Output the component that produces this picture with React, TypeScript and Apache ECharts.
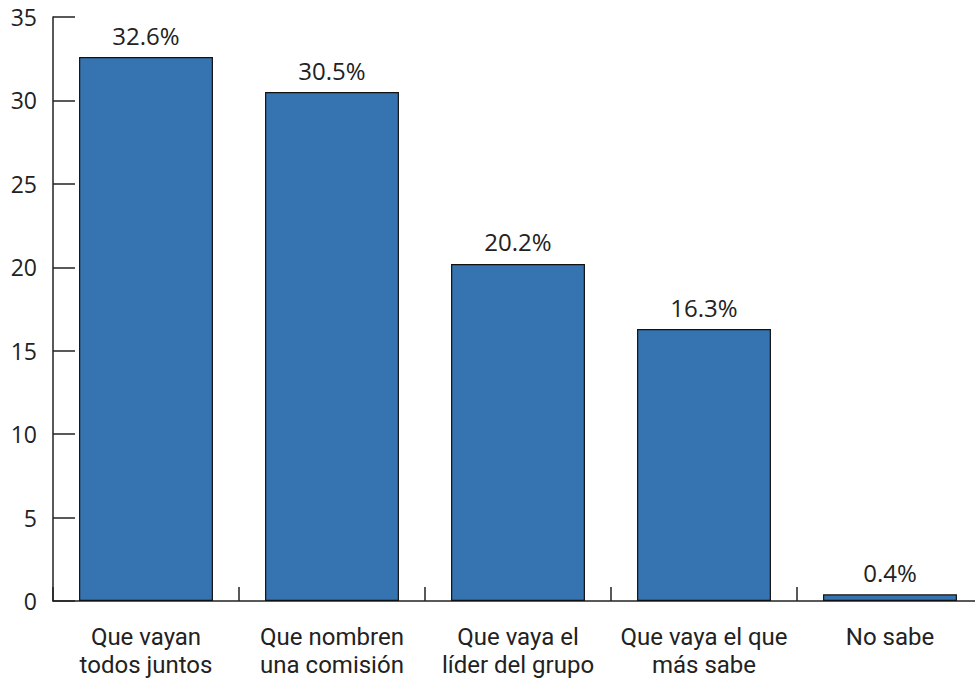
import React, { useEffect, useRef } from "react";
import * as echarts from "echarts";

const categories = [
  "Que vayan\ntodos juntos",
  "Que nombren\nuna comisión",
  "Que vaya el\nlíder del grupo",
  "Que vaya el que\nmás sabe",
  "No sabe",
];
const values = [32.6, 30.5, 20.2, 16.3, 0.4];
const yTicks = { min: 0, max: 35, interval: 5 };

export default function App() {
  const ref = useRef<HTMLDivElement>(null);
  useEffect(() => {
    if (!ref.current) return;
    const chart = echarts.init(ref.current, null, { renderer: "svg" });
    const font = "'Open Sans', 'Noto Sans', sans-serif";
    chart.setOption({
      animation: false,
      grid: { left: 53, right: 0, top: 17, bottom: 77, containLabel: false },
      xAxis: {
        type: "category",
        data: categories,
        axisLine: { show: true, lineStyle: { color: "#222", width: 1.5 } },
        axisTick: { show: true, inside: true, interval: 0, length: 14, lineStyle: { color: "#222", width: 1.5 } },
        axisLabel: {
          interval: 0,
          color: "#222",
          fontSize: 24,
          fontFamily: "Roboto, 'Open Sans', sans-serif",
          lineHeight: 28,
          margin: 22,
        },
      },
      yAxis: {
        type: "value",
        min: yTicks.min,
        max: yTicks.max,
        interval: yTicks.interval,
        splitLine: { show: false },
        axisLine: { show: true, lineStyle: { color: "#222", width: 1.5 } },
        axisTick: { show: true, inside: true, length: 22, lineStyle: { color: "#222", width: 1.5 } },
        axisLabel: { color: "#222", fontSize: 23, fontFamily: font, margin: 16 },
      },
      series: [
        {
          type: "bar",
          data: values,
          barCategoryGap: "28%",
          itemStyle: { color: "#3574b0", borderColor: "#111", borderWidth: 1.2 },
          label: {
            show: true,
            position: "top",
            distance: 10,
            color: "#222",
            fontSize: 24,
            fontFamily: font,
            formatter: (p: any) => p.value.toFixed(1) + "%",
          },
        },
      ],
    });
    return () => chart.dispose();
  }, []);
  return (
    <div style={{ position: "absolute", left: 0, top: 0, width: 975, height: 679, overflow: "hidden", background: "#fff" }}>
      <div ref={ref} style={{ width: 983, height: 679 }} />
    </div>
  );
}
